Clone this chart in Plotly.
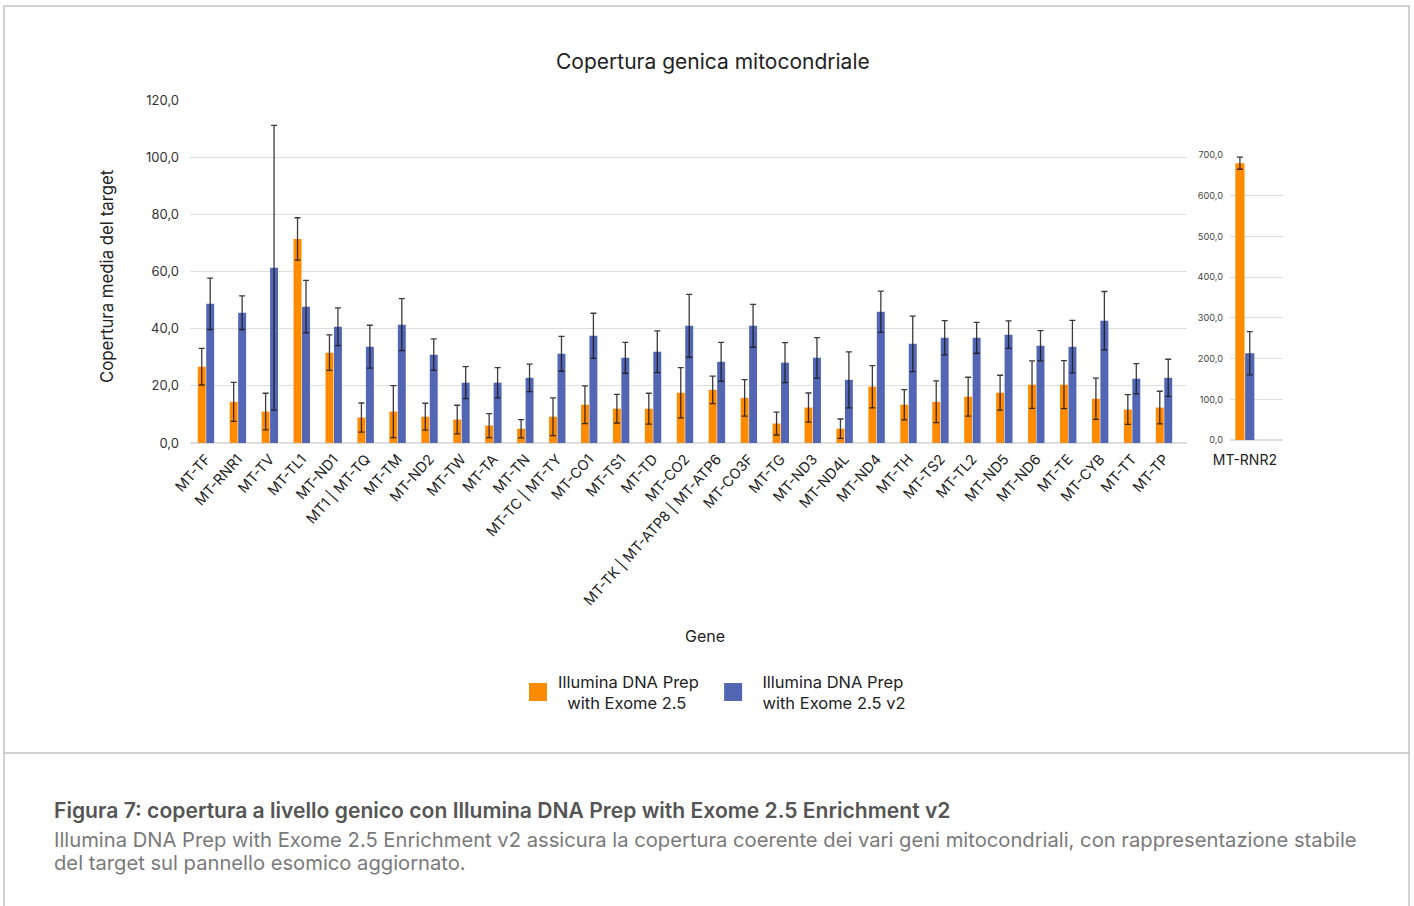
import plotly.graph_objects as go

W, H = 1414, 906

genes = ["MT-TF", "MT-RNR1", "MT-TV", "MT-TL1", "MT-ND1", "MT1 | MT-TQ", "MT-TM", "MT-ND2",
         "MT-TW", "MT-TA", "MT-TN", "MT-TC | MT-TY", "MT-CO1", "MT-TS1", "MT-TD", "MT-CO2",
         "MT-TK | MT-ATP8 | MT-ATP6", "MT-CO3F", "MT-TG", "MT-ND3", "MT-ND4L", "MT-ND4", "MT-TH",
         "MT-TS2", "MT-TL2", "MT-ND5", "MT-ND6", "MT-TE", "MT-CYB", "MT-TT", "MT-TP"]

v1_mean = [26.7, 14.4, 11.0, 71.4, 31.6, 8.9, 11.0, 9.2, 8.2, 6.1, 5.0, 9.2, 13.4, 12.0, 12.0, 17.6,
           18.6, 15.8, 6.8, 12.4, 5.0, 19.7, 13.4, 14.4, 16.2, 17.6, 20.4, 20.4, 15.5, 11.7, 12.4]
v1_err = [6.4, 6.8, 6.4, 7.4, 6.2, 5.1, 9.1, 4.7, 5.0, 4.2, 3.2, 6.6, 6.6, 5.0, 5.4, 8.8,
          4.8, 6.4, 4.0, 5.1, 3.4, 7.4, 5.3, 7.3, 6.8, 6.1, 8.3, 8.4, 7.2, 5.2, 5.7]
v2_mean = [48.7, 45.6, 61.3, 47.7, 40.7, 33.7, 41.4, 30.9, 21.1, 21.1, 22.8, 31.2, 37.5, 29.8, 31.9, 41.0,
           28.4, 41.0, 28.1, 29.8, 22.1, 45.9, 34.7, 36.8, 36.8, 37.9, 34.0, 33.7, 42.8, 22.5, 22.8]
v2_err = [9.0, 5.9, 49.8, 9.2, 6.6, 7.5, 9.1, 5.5, 5.6, 5.3, 4.8, 6.1, 7.9, 5.4, 7.3, 11.0,
          6.8, 7.5, 7.0, 7.1, 9.8, 7.2, 9.7, 6.0, 5.4, 4.8, 5.3, 9.2, 10.2, 5.3, 6.5]

rnr2_gene = ["MT-RNR2"]
rnr2_v1_mean = [680.0]
rnr2_v1_err = [15.0]
rnr2_v2_mean = [213.0]
rnr2_v2_err = [53.0]

main_ticks = [0, 20, 40, 60, 80, 100, 120]
side_ticks = [0, 100, 200, 300, 400, 500, 600, 700]

NB = "\u00a0"
series_names = ["Illumina DNA Prep" + NB * 2 + "<br>" + NB * 2 + "with Exome 2.5",
                NB * 2 + "Illumina DNA Prep<br>" + NB * 2 + "with Exome 2.5 v2"]

caption_title = "Figura 7: copertura a livello genico con Illumina DNA Prep with Exome 2.5 Enrichment v2"
caption_lines = ["Illumina DNA Prep with Exome 2.5 Enrichment v2 assicura la copertura coerente dei vari geni "
                 "mitocondriali, con rappresentazione stabile",
                 "del target sul pannello esomico aggiornato."]

ORANGE = "#FF8C00"
BLUE = "#5266B3"
ERR = "rgba(25,25,25,0.85)"
GRID = "#dedede"
FONT = "Inter"


def px_x(p):
    return p / W


def px_y(p):
    return 1 - p / H


fig = go.Figure()

err_style = dict(type="data", visible=True, color=ERR, thickness=1.3, width=3)

fig.add_trace(go.Bar(x=genes, y=v1_mean, error_y=dict(array=v1_err, **err_style),
                     marker=dict(color=ORANGE, line=dict(width=0)), showlegend=False,
                     xaxis="x", yaxis="y", name=series_names[0]))
fig.add_trace(go.Bar(x=genes, y=v2_mean, error_y=dict(array=v2_err, **err_style),
                     marker=dict(color=BLUE, line=dict(width=0)), showlegend=False,
                     xaxis="x", yaxis="y", name=series_names[1]))
fig.add_trace(go.Bar(x=rnr2_gene, y=rnr2_v1_mean, error_y=dict(array=rnr2_v1_err, **err_style),
                     marker=dict(color=ORANGE, line=dict(width=0)), showlegend=False,
                     xaxis="x2", yaxis="y2", name=series_names[0]))
fig.add_trace(go.Bar(x=rnr2_gene, y=rnr2_v2_mean, error_y=dict(array=rnr2_v2_err, **err_style),
                     marker=dict(color=BLUE, line=dict(width=0)), showlegend=False,
                     xaxis="x2", yaxis="y2", name=series_names[1]))

# legend entries
for nm, col in zip(series_names, [ORANGE, BLUE]):
    fig.add_trace(go.Scatter(x=[None], y=[None], mode="markers", name=nm,
                             marker=dict(symbol="square", size=20, color=col, line=dict(width=2, color=col)),
                             xaxis="x", yaxis="y", showlegend=True))

shapes = [
    dict(type="rect", xref="paper", yref="paper", x0=px_x(4), x1=px_x(1409), y0=px_y(753), y1=px_y(6),
         line=dict(color="#c4c4c4", width=1.5), fillcolor="rgba(0,0,0,0)", layer="below"),
    dict(type="line", xref="paper", yref="paper", x0=px_x(4), x1=px_x(4), y0=px_y(753), y1=px_y(910),
         line=dict(color="#c4c4c4", width=1.5)),
    dict(type="line", xref="paper", yref="paper", x0=px_x(1409), x1=px_x(1409), y0=px_y(753), y1=px_y(910),
         line=dict(color="#c4c4c4", width=1.5)),
]

annotations = [
    dict(text="Copertura genica mitocondriale", x=px_x(713), y=px_y(61), xref="paper", yref="paper",
         showarrow=False, xanchor="center", yanchor="middle", font=dict(family=FONT, size=21, color="#222")),
    dict(text="Copertura media del target", x=px_x(107), y=px_y(276), xref="paper", yref="paper",
         showarrow=False, textangle=-90, xanchor="center", yanchor="middle",
         font=dict(family=FONT, size=16.8, color="#222")),
    dict(text="Gene", x=px_x(705), y=px_y(636), xref="paper", yref="paper",
         showarrow=False, xanchor="center", yanchor="middle", font=dict(family=FONT, size=16, color="#222")),
    dict(text=caption_title,
         x=px_x(52), y=px_y(810), xref="paper", yref="paper", showarrow=False, xanchor="left", yanchor="middle",
         font=dict(family=FONT, size=21.1, color="#555555", weight=600)),
    dict(text=caption_lines[0],
         x=px_x(52), y=px_y(839), xref="paper", yref="paper", showarrow=False, xanchor="left", yanchor="middle",
         align="left", font=dict(family=FONT, size=20.2, color="#7a7a7a")),
    dict(text=caption_lines[1],
         x=px_x(52), y=px_y(862), xref="paper", yref="paper", showarrow=False, xanchor="left", yanchor="middle",
         align="left", font=dict(family=FONT, size=20.2, color="#7a7a7a")),
]

fig.update_layout(
    width=W, height=H,
    margin=dict(l=0, r=0, t=0, b=0),
    paper_bgcolor="white", plot_bgcolor="white",
    separators=",.",
    barmode="group", bargap=0.47, bargroupgap=0.06,
    font=dict(family=FONT, color="#333"),
    showlegend=True,
    legend=dict(orientation="h", x=px_x(714.5), xanchor="center", y=px_y(692), yanchor="middle",
                font=dict(family=FONT, size=16.5, color="#222"), bgcolor="rgba(0,0,0,0)",
                itemsizing="trace"),
    xaxis=dict(domain=[px_x(190), px_x(1187)], type="category", range=[-0.5, 30.72],
               tickangle=-48, tickfont=dict(family=FONT, size=14.3, color="#222"),
               showgrid=False, showline=False, ticks="", automargin=False, fixedrange=True,
               ticklabelstandoff=4),
    yaxis=dict(domain=[px_y(443), px_y(100)], range=[0, 120], tickvals=main_ticks, tickformat=".1f",
               tickfont=dict(family=FONT, size=13, color="#333"), showgrid=True, gridcolor=GRID,
               gridwidth=1.2, zeroline=True, zerolinecolor=GRID, zerolinewidth=1.5,
               showline=False, ticks="", ticklabelstandoff=10, automargin=False),
    xaxis2=dict(domain=[px_x(1230), px_x(1283)], type="category", range=[-0.40, 1.03],
                tickangle=0, tickfont=dict(family=FONT, size=14, color="#222"),
                showgrid=False, showline=False, ticks="", anchor="y2", automargin=False,
                ticklabelstandoff=10),
    yaxis2=dict(domain=[px_y(440), px_y(155)], range=[0, 700], tickvals=side_ticks, tickformat=".1f",
                tickfont=dict(family=FONT, size=9.2, color="#444"), showgrid=True, gridcolor=GRID,
                gridwidth=1, zeroline=True, zerolinecolor=GRID, showline=False, ticks="",
                anchor="x2", ticklabelstandoff=6, automargin=False),
    shapes=shapes,
    annotations=annotations,
)

fig.write_html("out.html", config={"displayModeBar": False},
               post_script="document.body.style.margin='0px';")
